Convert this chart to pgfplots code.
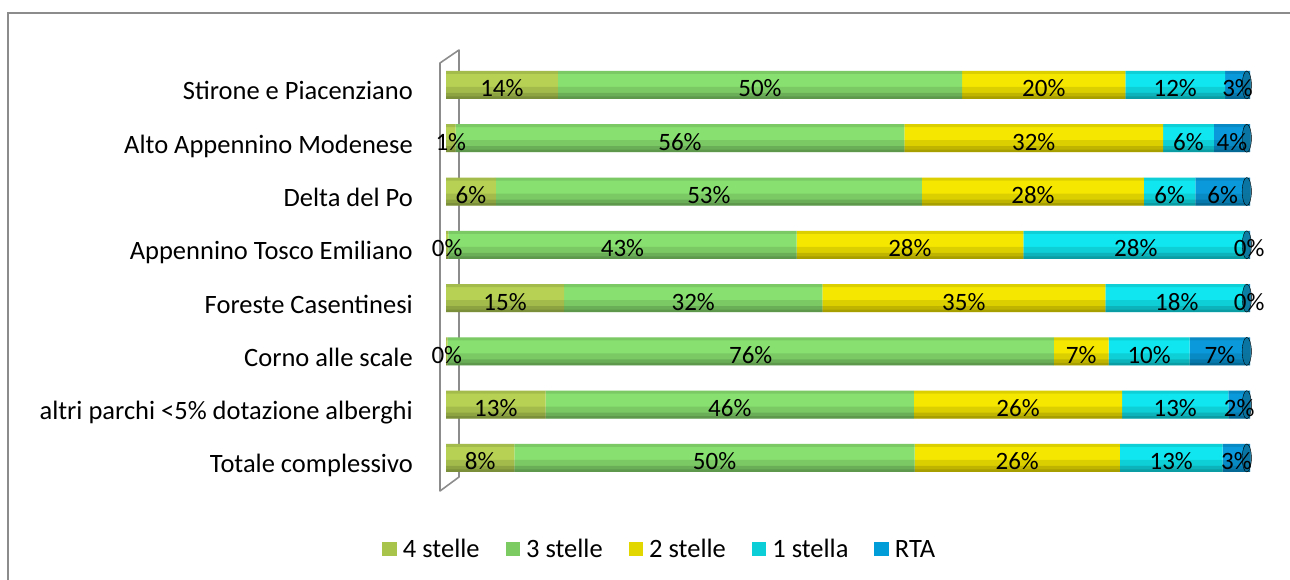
\documentclass[border=0pt]{standalone}
\usepackage{fontspec}
\setmainfont{Carlito}
\usepackage{pgfplots}
\pgfplotsset{compat=1.18}
\usepackage{pgfplotstable}

\definecolor{cA}{HTML}{B6D154}
\definecolor{cB}{HTML}{88E070}
\definecolor{cC}{HTML}{F6E700}
\definecolor{cD}{HTML}{10E6EF}
\definecolor{cE}{HTML}{0A9ADC}
\definecolor{lA}{HTML}{A8C44A}
\definecolor{lB}{HTML}{7CCB62}
\definecolor{lC}{HTML}{E2D800}
\definecolor{lD}{HTML}{0BCED7}
\definecolor{lE}{HTML}{009DD9}
\definecolor{capc}{HTML}{0B6F98}
\definecolor{frame}{HTML}{8C8C8C}

% y: 7 = Stirone ... 0 = Totale
\pgfplotstableread{
y a b c d e t
7 13.9 50.3 20.3 12.4 3.1 100
6 1.2 55.8 32.2 6.3 4.5 100
5 6.2 53.0 27.6 6.4 6.8 100
4 0.3 43.3 28.2 28.0 0.2 100
3 14.7 32.1 35.2 17.8 0.2 100
2 0.2 75.4 6.8 10.1 7.5 100
1 12.4 45.8 25.9 13.2 2.7 100
0 8.5 49.8 25.5 12.8 3.4 100
}\data

% right-end caps of the cylinders
\pgfplotstableread{
x y
99.6 7
99.6 6
99.6 5
99.6 4
99.6 3
99.6 2
99.6 1
99.6 0
}\caps

% label centres (x), row (y), label value (m)
\pgfplotstableread{
x y m
6.95 7 14
39.05 7 50
74.35 7 20
90.7 7 12
98.45 7 3
0.6 6 1
29.1 6 56
73.1 6 32
92.35 6 6
97.75 6 4
3.1 5 6
32.7 5 53
73.0 5 28
90.0 5 6
96.6 5 6
0.15 4 0
21.95 4 43
57.7 4 28
85.8 4 28
99.9 4 0
7.35 3 15
30.75 3 32
64.4 3 35
90.9 3 18
99.9 3 0
0.1 2 0
37.9 2 76
79.0 2 7
87.45 2 10
96.25 2 7
6.2 1 13
35.3 1 46
71.15 1 26
90.7 1 13
98.65 1 2
4.25 0 8
33.4 0 50
71.05 0 26
90.2 0 13
98.3 0 3
}\labels

\pgfplotsset{
  base/.style={
    at={(446pt,-484.6pt)}, anchor=south west,
    scale only axis, width=804pt, height=426.3pt,
    xmin=0, xmax=100, ymin=-0.5, ymax=7.5,
  },
}

\begin{document}
\begin{tikzpicture}[x=1pt,y=1pt]
\useasboundingbox (0,0) rectangle (1290,-580);
\draw[frame, line width=2pt] (8,-581) -- (8,-13) -- (1291,-13);
% side wall
\draw[frame, line width=1.6pt, line join=round] (440,-491) -- (440,-63) -- (459,-50) -- (459,-477) -- cycle;

\begin{axis}[base,
  xbar stacked, bar width=28pt,
  axis line style={draw=none},
  hide x axis,
  ytick={0,...,7},
  yticklabels={Totale complessivo, altri parchi <5\% dotazione alberghi, Corno alle scale, Foreste Casentinesi, Appennino Tosco Emiliano, Delta del Po, Alto Appennino Modenese, Stirone e Piacenziano},
  major tick length=0pt,
  ytick style={draw=none},
  yticklabel style={anchor=base east, inner sep=0pt, yshift=-15pt, font=\fontsize{26.5}{31}\selectfont},
  yticklabel shift=33pt,
  legend columns=5,
  legend style={draw=none, at={(0.266,-0.152)}, anchor=center, font=\fontsize{26.5}{31}\selectfont,
    /tikz/every odd column/.append style={column sep=4pt},
    /tikz/every even column/.append style={column sep=24pt}},
  legend image code/.code={\fill[#1] (0pt,-7pt) rectangle (14.5pt,7pt);},
]
\addlegendimage{fill=lA, draw=none}\addlegendentry{4 stelle}
\addlegendimage{fill=lB, draw=none}\addlegendentry{3 stelle}
\addlegendimage{fill=lC, draw=none}\addlegendentry{2 stelle}
\addlegendimage{fill=lD, draw=none}\addlegendentry{1 stella}
\addlegendimage{fill=lE, draw=none}\addlegendentry{RTA}
\addplot[fill=cA, draw=none, forget plot] table[x=a, y=y] {\data};
\addplot[fill=cB, draw=none, forget plot] table[x=b, y=y] {\data};
\addplot[fill=cC, draw=none, forget plot] table[x=c, y=y] {\data};
\addplot[fill=cD, draw=none, forget plot] table[x=d, y=y] {\data};
\addplot[fill=cE, draw=none, forget plot] table[x=e, y=y] {\data};
\end{axis}

% cylinder shading: darker top edge and bottom
\begin{axis}[base, hide axis, xbar, draw=none]
\addplot[fill=black, fill opacity=0.10, draw=none, bar width=3pt, bar shift=12.5pt] table[x=t, y=y] {\data};
\addplot[fill=black, fill opacity=0.10, draw=none, bar width=12pt, bar shift=-8pt] table[x=t, y=y] {\data};
\addplot[fill=black, fill opacity=0.13, draw=none, bar width=6pt, bar shift=-11pt] table[x=t, y=y] {\data};
\addplot[fill=black, fill opacity=0.12, draw=none, bar width=2.5pt, bar shift=-12.75pt] table[x=t, y=y] {\data};
\end{axis}

\begin{axis}[base, hide axis, clip=false]
\addplot[only marks, draw=none, mark=*, mark size=14pt, mark options={xscale=0.33, fill=capc, draw=none, fill opacity=0.85}] table[x=x, y=y] {\caps};
\addplot[draw=none, mark=none, point meta=explicit symbolic,
  nodes near coords={\pgfplotspointmeta\%},
  every node near coord/.style={anchor=base, inner sep=0pt, yshift=-12pt, font=\fontsize{25}{30}\selectfont, text=black}]
  table[x=x, y=y, meta=m] {\labels};
\end{axis}
\end{tikzpicture}
\end{document}
